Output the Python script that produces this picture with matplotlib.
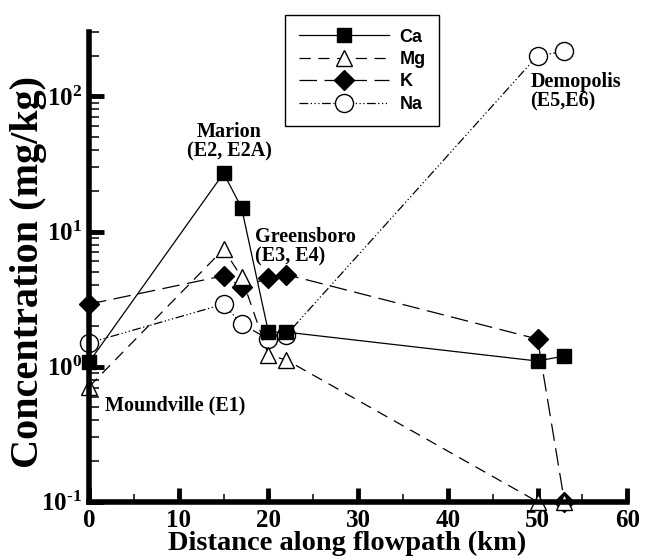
import numpy as np
import matplotlib
matplotlib.use("Agg")
import matplotlib.pyplot as plt
from matplotlib.ticker import FixedLocator, FuncFormatter, LogLocator, NullFormatter

plt.rcParams['font.family'] = ['Liberation Serif', 'DejaVu Serif']
plt.rcParams['font.weight'] = 'bold'
plt.rcParams['mathtext.fontset'] = 'custom'
plt.rcParams['mathtext.rm'] = 'Liberation Serif:bold'
plt.rcParams['mathtext.bf'] = 'Liberation Serif:bold'

# distance along flowpath (km)
dist = [0, 15, 17, 20, 22, 50, 53]

# concentrations (mg/kg)
ca = [1.08, 27, 15, 1.8, 1.8, 1.1, 1.2]
mg = [0.71, 7.4, 4.6, 1.22, 1.12, 0.1, 0.1]
k = [2.9, 4.7, 3.9, 4.5, 4.8, 1.6, 0.1]
na = [1.5, 2.9, 2.07, 1.6, 1.72, 200, 215]

# site labels
sites = ["Moundville (E1)", "Marion\n(E2, E2A)", "Greensboro\n(E3, E4)", "Demopolis\n(E5,E6)"]
site_xy = [(1.8, 0.52), (15.6, 46), (18.5, 7.7), (49.2, 108)]
site_ha = ['left', 'center', 'left', 'left']

fig = plt.figure(figsize=(6.5, 5.6), dpi=100)
ax = fig.add_axes([0.137, 0.104, 0.828, 0.839])

lw = 0.9
l_na, = ax.plot(dist, na, color='black', lw=lw, linestyle=(0, (7, 2, 1, 2, 1, 2, 1, 2)),
                marker='o', ms=13, mfc='white', mec='black', mew=1, clip_on=False, label='Na')
l_k, = ax.plot(dist, k, color='black', lw=lw, linestyle=(0, (14, 6)),
               marker='D', ms=10, mfc='black', mec='black', clip_on=False, label='K')
l_mg, = ax.plot(dist, mg, color='black', lw=lw, linestyle=(0, (9, 6)),
                marker='^', ms=12, mfc='white', mec='black', mew=1, clip_on=False, label='Mg')
l_ca, = ax.plot(dist, ca, color='black', lw=lw, linestyle='-',
                marker='s', ms=10, mfc='black', mec='black', clip_on=False, label='Ca')

ax.set_yscale('log')
ax.set_xlim(0, 60)
ax.set_ylim(0.1, 300)

ax.spines['top'].set_visible(False)
ax.spines['right'].set_visible(False)
ax.spines['left'].set_linewidth(4)
ax.spines['bottom'].set_linewidth(4)


def pow_label(v, pos):
    e = int(round(np.log10(v)))
    return r'$\mathbf{10^{\text{%d}}}$' % e


ax.xaxis.set_major_locator(FixedLocator([0, 10, 20, 30, 40, 50, 60]))
ax.xaxis.set_minor_locator(FixedLocator([5, 15, 25, 35, 45, 55]))
ax.yaxis.set_major_locator(FixedLocator([0.1, 1, 10, 100]))
ax.yaxis.set_minor_locator(LogLocator(base=10, subs=np.arange(2, 10)))
ax.yaxis.set_minor_formatter(NullFormatter())
ax.yaxis.set_major_formatter(FuncFormatter(pow_label))

ax.tick_params(axis='both', which='major', direction='in', width=3.5, length=10,
               labelsize=18, pad=5)
ax.tick_params(axis='y', which='major', length=11)
ax.tick_params(axis='both', which='minor', direction='in', width=1.1, length=6)
ax.tick_params(axis='y', which='minor', length=7)
ax.tick_params(top=False, right=False, which='both')

ax.set_xlabel('Distance along flowpath (km)', fontsize=20.5, fontweight='bold')
ax.set_ylabel('Concentration (mg/kg)', fontsize=29, fontweight='bold')
ax.xaxis.set_label_coords(0.48, -0.062)
ax.yaxis.set_label_coords(-0.078, 0.49)

for s, (x, y), ha in zip(sites, site_xy, site_ha):
    ax.text(x, y, s, ha=ha, va='center', fontsize=14.5, fontweight='bold', linespacing=1.0)

leg = fig.legend(handles=[l_ca, l_mg, l_k, l_na], loc='upper left',
                 bbox_to_anchor=(0.4385, 0.973), borderaxespad=0, frameon=True, fancybox=False,
                 edgecolor='black', framealpha=1, handlelength=5.0, borderpad=0.75,
                 labelspacing=0.3, handletextpad=0.6,
                 prop={'family': ['Liberation Sans', 'DejaVu Sans'], 'weight': 'bold', 'size': 13})
leg.get_frame().set_linewidth(1.0)

fig.savefig('out.png', dpi=100)
